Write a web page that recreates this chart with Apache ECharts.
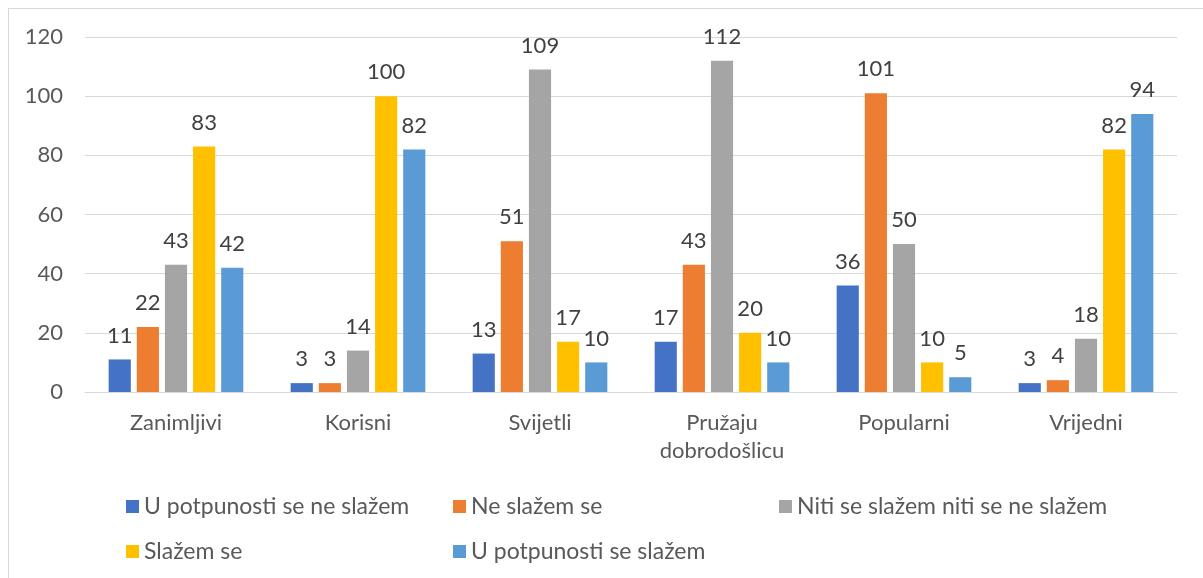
<!DOCTYPE html>
<html><head><meta charset="utf-8">
<script src="https://cdn.jsdelivr.net/npm/echarts@6/dist/echarts.min.js"></script>
<style>html,body{margin:0;padding:0;background:#fff}#c{width:1203px;height:578px;position:relative}
#frame{position:absolute;left:8px;top:8px;width:1300px;height:700px;border:1px solid #d9d9d9;box-sizing:border-box;pointer-events:none}</style>
</head><body><div id="c"></div><div id="frame"></div>
<script>
const categories = ['Zanimljivi', 'Korisni', 'Svijetli', 'Pružaju\ndobrodošlicu', 'Popularni', 'Vrijedni'];
const seriesNames = ['U potpunosti se ne slažem', 'Ne slažem se', 'Niti se slažem niti se ne slažem', 'Slažem se', 'U potpunosti se slažem'];
const s1 = [11, 3, 13, 17, 36, 3];
const s2 = [22, 3, 51, 43, 101, 4];
const s3 = [43, 14, 109, 112, 50, 18];
const s4 = [83, 100, 17, 20, 10, 82];
const s5 = [42, 82, 10, 10, 5, 94];
const yTicks = {min: 0, max: 120, interval: 20};
const colors = ['#4472C4', '#ED7D31', '#A5A5A5', '#FFC000', '#5B9BD5'];
const values = [s1, s2, s3, s4, s5];
const font = 'Lato, "Open Sans", sans-serif';
const chart = echarts.init(document.getElementById('c'));
const legendPos = [[121, 490], [448, 490], [774, 490], [121, 535], [448, 535]];
chart.setOption({
  animation: false,
  color: colors,
  textStyle: {fontFamily: font},
  grid: {left: 85, right: 26, top: 37, bottom: 186},
  legend: seriesNames.map((n, i) => ({
    data: [n], left: legendPos[i][0], top: legendPos[i][1],
    itemWidth: 13, itemHeight: 13, icon: 'rect', itemGap: 4,
    textStyle: {fontSize: 23, color: '#595959', fontFamily: font}
  })),
  xAxis: {
    type: 'category', data: categories,
    axisLine: {show: true, lineStyle: {color: '#d9d9d9'}},
    axisTick: {show: false},
    axisLabel: {fontSize: 22, color: '#595959', margin: 17, lineHeight: 28, fontFamily: font, interval: 0}
  },
  yAxis: {
    type: 'value', min: yTicks.min, max: yTicks.max, interval: yTicks.interval,
    axisLine: {show: false}, axisTick: {show: false},
    axisLabel: {fontSize: 22, color: '#595959', margin: 22, fontFamily: font},
    splitLine: {lineStyle: {color: '#d9d9d9', width: 1}}
  },
  series: values.map((v, i) => ({
    name: seriesNames[i], type: 'bar', data: v,
    barGap: '27%', barCategoryGap: '26%',
    label: {show: true, position: 'top', fontSize: 22, color: '#404040', distance: 13, fontFamily: font}
  }))
});
</script></body></html>
